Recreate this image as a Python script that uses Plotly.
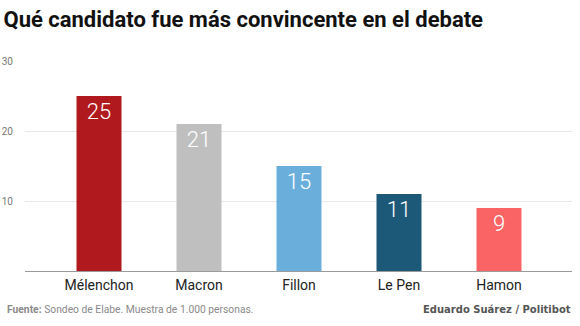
import plotly.graph_objects as go

# Survey results: which candidate was most convincing in the debate (%)
candidates = ["Mélenchon", "Macron", "Fillon", "Le Pen", "Hamon"]
values = [25, 21, 15, 11, 9]
bar_colors = ["#b01a1e", "#bfbfbf", "#6aafdc", "#1c5878", "#fb6464"]
y_ticks = [10, 20, 30]

fig = go.Figure(
    go.Bar(
        x=candidates,
        y=values,
        marker=dict(color=bar_colors, line=dict(width=0)),
        width=0.45,
        text=[str(v) for v in values],
        textposition="inside",
        insidetextanchor="end",
        textfont=dict(family="Roboto", size=22, color="white", weight=300),
        cliponaxis=False,
        hoverinfo="skip",
    )
)

fig.update_layout(
    width=580,
    height=326,
    margin=dict(l=25, r=8, t=61, b=55, autoexpand=False),
    paper_bgcolor="white",
    plot_bgcolor="white",
    showlegend=False,
    uniformtext=dict(minsize=22, mode="show"),
    title=dict(
        text="<b>Qué candidato fue más convincente en el debate</b>",
        x=0.006,
        xref="container",
        xanchor="left",
        y=0.94,
        yref="container",
        yanchor="middle",
        font=dict(family="Roboto", size=22, color="#111111"),
    ),
    xaxis=dict(
        range=[-0.74, 4.73],
        showgrid=False,
        showline=True,
        linecolor="#9a9a9a",
        linewidth=1,
        ticks="",
        tickfont=dict(family="Roboto", size=14, color="#222222"),
        ticklabelstandoff=1,
        automargin=False,
    ),
    yaxis=dict(
        range=[0, 30],
        tickvals=y_ticks,
        showgrid=True,
        gridcolor="#e8e8e8",
        gridwidth=1,
        zeroline=False,
        showline=False,
        ticks="",
        tickfont=dict(family="Roboto", size=10, color="#777777"),
        ticklabelstandoff=11,
        automargin=False,
    ),
    annotations=[
        dict(
            text="<b>Fuente:</b> Sondeo de Elabe. Muestra de 1.000 personas.",
            xref="paper", yref="paper",
            x=-0.037, y=-0.181,
            xanchor="left", yanchor="middle",
            showarrow=False,
            font=dict(family="Roboto", size=10.3, color="#8a8a8a"),
        ),
        dict(
            text="<b>Eduardo Suárez / Politibot</b>",
            xref="paper", yref="paper",
            x=1.002, y=-0.181,
            xanchor="right", yanchor="middle",
            showarrow=False,
            font=dict(family="DejaVu Sans", size=10, color="#555555"),
        ),
    ],
)

fig.write_html("out.html")
